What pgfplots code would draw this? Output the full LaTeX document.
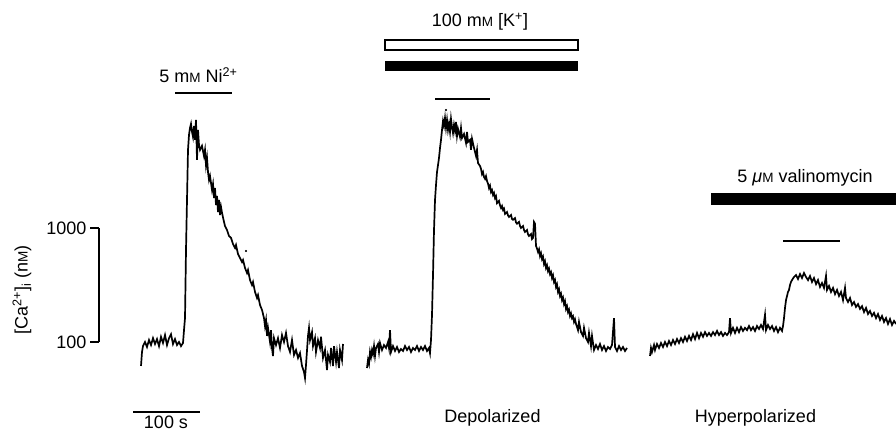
\documentclass[border=0pt]{standalone}
\usepackage{fontspec}
\setmainfont{Liberation Sans}
\usepackage{pgfplots}
\pgfplotsset{compat=1.18}
\newcommand{\sM}{{\fontsize{13.5}{13.5}\selectfont M}}
\begin{document}
\begin{tikzpicture}[font=\fontsize{18}{21}\selectfont]
\useasboundingbox (0,0) rectangle (896pt,436pt);
\begin{axis}[scale only axis, width=896pt, height=436pt,
  xmin=0, xmax=896, ymode=log, ymin=14.97, ymax=100000,
  hide axis, clip=false]
% Trace 1: 5 mM Ni2+
\addplot[black, line width=1.7pt] coordinates {
(141,61.6)(142,81.7)(143,92.2)(145,100)(147,90.4)(149,104)(151,94)(153,108)(155,96)(157,106)(159,92)(161,111)(163,98)(165,115)(167,94)(169,108)(171,117)(173,96)(175,106)(177,94)(179,100)(181,92)(183,98)(184,127)(185,162)(186,642)(187,1760)(188,4840)(189,6550)(190,7540)(191,8180)(192,6960)(193,6290)(194,7860)(195,5930)(196,8870)(197,3960)(198,7240)(199,5350)(200,4840)(202,5250)(204,4280)(205,4840)(206,3560)(207,4120)(208,3100)(209,2640)(210,2860)(212,2160)(213,2430)(214,1830)(215,2240)(216,1590)(217,1910)(218,1380)(219,1760)(220,1300)(221,1530)(222,1360)(224,1130)(225,1040)(227,960)(229,851)(231,818)(233,724)(235,669)(236,710)(238,591)(240,546)(242,503)(243,524)(245,446)(247,403)(248,428)(250,349)(252,316)(253,336)(255,275)(257,243)(258,258)(260,211)(262,191)(264,162)(265,138)(266,156)(267,113)(268,133)(270,100)(271,127)(272,88.6)(273,75.4)(274,108)(276,94)(278,108)(280,88.6)(282,115)(284,100)(286,120)(288,92)(290,81.7)(292,104)(294,76.9)(296,85)(298,72.4)(300,80)(302,61.6)(304,54.6)(305,48.3)(306,62.8)(308,113)(309,133)(310,104)(312,122)(313,92)(315,108)(316,81.7)(318,104)(320,88.6)(321,111)(323,72.4)(325,85)(327,56.8)(328,76.9)(330,66.8)(331,88.6)(333,61.6)(334,92)(336,66.8)(337,81.7)(339,59.1)(340,85)(342,69.5)(343,96)
};
% Trace 2: depolarized
\addplot[black, line width=1.7pt] coordinates {
(367,59.1)(368,69.5)(369,64.1)(370,81.7)(371,73.9)(372,85)(373,78.4)(374,92)(375,75.4)(376,88.6)(378,96)(379,81.7)(380,98)(382,85)(384,94)(386,88.6)(388,100)(389,88.6)(390,127)(391,81.7)(393,92)(395,83.4)(397,90.4)(399,81.7)(401,86.8)(403,83.4)(405,92)(407,85)(409,90.4)(411,81.7)(413,88.6)(415,85)(417,92)(419,83.4)(421,90.4)(423,85)(425,92)(427,83.4)(429,88.6)(430,80)(431,104)(432,173)(433,387)(434,960)(435,1760)(436,2380)(437,3100)(438,3560)(439,4120)(440,5030)(441,5930)(442,7240)(443,8680)(444,7860)(445,9230)(446,7540)(447,8870)(448,7240)(449,8180)(450,6960)(451,9050)(452,7700)(453,6820)(454,8010)(455,7100)(456,8510)(457,6420)(458,7390)(460,6290)(461,7540)(462,6160)(464,6680)(466,5570)(467,6960)(468,5680)(470,5930)(471,4840)(472,6060)(474,5030)(476,4280)(477,4840)(478,3710)(480,3500)(481,3300)(482,2970)(483,3100)(484,2800)(485,2700)(486,2850)(487,2580)(488,2450)(489,2240)(490,2350)(491,2070)(492,2150)(493,1950)(494,2030)(495,1830)(496,1900)(497,1650)(499,1730)(500,1580)(501,1500)(502,1560)(503,1440)(504,1480)(505,1330)(507,1380)(508,1290)(509,1250)(511,1300)(512,1200)(513,1180)(515,1220)(516,1120)(517,1090)(519,1130)(520,1040)(521,1000)(523,1040)(524,960)(525,923)(527,960)(528,880)(529,851)(531,886)(532,800)(533,818)(534,1130)(535,1090)(536,696)(537,660)(538,616)(539,650)(540,567)(541,600)(542,534)(543,560)(544,483)(545,510)(546,446)(547,470)(548,419)(549,440)(550,394)(551,410)(552,364)(553,385)(554,336)(555,350)(556,304)(557,320)(558,275)(559,290)(560,253)(561,265)(562,233)(563,245)(564,215)(565,228)(566,195)(567,206)(568,183)(569,192)(570,169)(571,178)(572,162)(573,168)(574,150)(575,158)(576,144)(578,127)(579,150)(581,122)(583,113)(584,133)(586,108)(588,100)(589,120)(591,92)(592,113)(594,85)(596,94)(598,86.8)(600,96)(602,85)(604,92)(606,83.4)(608,90.4)(610,86.8)(612,94)(614,162)(615,90.4)(617,83.4)(619,92)(621,85)(623,90.4)(625,83.4)(627,88.6)
};
% Trace 3: hyperpolarized
\addplot[black, line width=1.7pt] coordinates {
(650,75.4)(651,88.6)(652,81.7)(654,94)(655,85)(657,96)(659,88.6)(661,98)(663,90.4)(665,100)(667,92)(669,102)(671,94)(673,104)(675,96)(677,106)(679,98)(681,108)(683,100)(685,111)(687,102)(689,113)(691,104)(693,117)(695,106)(697,120)(699,108)(701,120)(703,111)(705,122)(707,113)(709,120)(711,113)(713,122)(715,115)(717,125)(719,115)(721,122)(723,113)(725,120)(727,115)(729,122)(730,162)(731,120)(733,133)(735,120)(737,133)(739,122)(741,135)(743,125)(745,133)(747,127)(749,138)(751,127)(753,135)(755,125)(757,138)(759,130)(761,141)(763,130)(765,173)(766,127)(768,141)(770,130)(772,138)(774,125)(776,135)(778,122)(780,133)(782,125)(783,138)(784,162)(785,199)(786,233)(787,253)(788,275)(789,286)(790,316)(791,336)(792,349)(794,372)(796,387)(798,357)(800,394)(802,364)(804,403)(806,372)(808,349)(810,379)(812,336)(814,364)(816,322)(818,349)(820,304)(822,329)(824,298)(826,379)(827,286)(829,310)(831,275)(833,298)(835,263)(837,286)(839,253)(841,275)(843,233)(845,298)(846,243)(848,224)(850,243)(852,211)(854,224)(856,203)(858,215)(860,195)(862,206)(864,183)(866,199)(868,176)(870,187)(872,169)(874,180)(876,162)(878,176)(880,156)(882,169)(884,150)(886,162)(888,144)(890,159)(892,141)(894,153)(896,144)
};
\addplot[only marks, mark=*, mark size=0.9pt, black] coordinates {(246,628)(446,10840)};
\end{axis}
% calcium scale bar
\begin{axis}[at={(99pt,94pt)}, anchor=south west, scale only axis,
  width=1pt, height=114pt, ymode=log, ymin=100, ymax=1000, xmin=0, xmax=1,
  axis x line=none, axis y line=left, axis line style={-, line width=1.5pt},
  ytick={100,1000}, yticklabels={100,1000}, yminorticks=false,
  tick align=outside, major tick length=9pt,
  tick style={line width=1.5pt, black},
  /pgf/number format/assume math mode=true,
  yticklabel style={font=\fontsize{18}{21}\selectfont, anchor=east}]
\addplot[draw=none] coordinates {(0,100)(1,1000)};
\end{axis}
\node[rotate=90] at (22pt,146pt) {[Ca\textsuperscript{2+}]\textsubscript{i} (n\sM)};
% stimulus annotations
\node[anchor=base] at (198.5pt,353pt) {5 m\sM\ Ni\textsuperscript{2+}};
\draw[line width=2pt] (175pt,343pt) -- (232pt,343pt);
\node[anchor=base] at (480pt,409pt) {100 m\sM\ [K\textsuperscript{+}]};
\draw[line width=1.2pt, fill=white] (385pt,386pt) rectangle (578pt,396pt);
\fill (385pt,364.5pt) rectangle (578pt,374.5pt);
\draw[line width=2pt] (435pt,337pt) -- (490pt,337pt);
\node[anchor=base] at (805pt,253pt) {5 \textit{μ}\sM\ valinomycin};
\fill (710.7pt,231pt) rectangle (896pt,243pt);
\draw[line width=2pt] (783pt,195pt) -- (840pt,195pt);
% time scale bar and condition labels
\draw[line width=2pt] (133pt,24.3pt) -- (200pt,24.3pt);
\node[anchor=base] at (166pt,8pt) {100 s};
\node[anchor=base] at (492.5pt,13pt) {Depolarized};
\node[anchor=base] at (755.5pt,13pt) {Hyperpolarized};
\end{tikzpicture}
\end{document}
